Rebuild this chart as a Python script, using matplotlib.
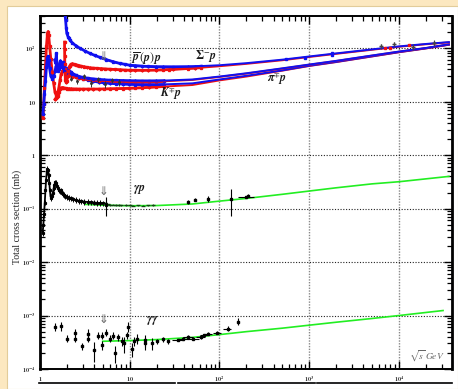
import numpy as np
import matplotlib
matplotlib.use("Agg")
import matplotlib.pyplot as plt
from matplotlib.patches import Rectangle
from matplotlib.lines import Line2D
from matplotlib.ticker import LogLocator, NullFormatter

plt.rcParams['mathtext.fontset'] = 'stix'

# ---------------- data (sqrt(s) in GeV, sigma in mb) ----------------
pbarp_sqrts = [1.88, 1.9, 1.93, 1.96, 1.99, 2.05, 2.1, 2.16, 2.3, 2.5, 2.8, 3.2, 3.6, 4.1, 4.7,
               5.5, 6.5, 7.7, 8.8, 10, 11.5, 13.8, 16, 19.5, 23.5, 30.6, 44.7, 52.8, 62.7]
pbarp_sigma = [600, 420, 330, 240, 190, 165, 152, 141, 125, 112, 99, 88, 80, 73, 67,
               61, 56, 52, 50, 48, 47, 46, 45.5, 45, 44.8, 44.5, 44.8, 45.2, 46]

pp_sqrts = [1.877, 1.88, 1.885, 1.89, 1.9, 1.92, 1.95, 1.99, 2.03, 2.07, 2.11, 2.15, 2.2, 2.25,
            2.3, 2.4, 2.5, 2.6, 2.75, 2.9, 3.1, 3.3, 3.6, 3.9, 4.3, 4.8, 5.3, 6.0, 6.8, 7.7,
            8.8, 10, 11.5, 13.8, 16, 19.5, 23.5, 27.4, 30.6, 44.7, 52.8, 62.7]
pp_sigma = [130, 95, 70, 50, 35, 25, 23, 24, 30, 38, 44, 47, 50, 50.5,
            51, 50, 49, 48, 47, 46, 45, 44, 43, 42.5, 42, 41.5, 41, 40.5, 40, 39.5,
            39, 38.7, 38.6, 38.5, 38.7, 38.9, 39.3, 39.8, 40.1, 41.7, 42.4, 43.2]

pip_sqrts = [1.08, 1.10, 1.12, 1.15, 1.18, 1.21, 1.23, 1.25, 1.28, 1.32, 1.37, 1.42, 1.47, 1.52,
             1.57, 1.62, 1.67, 1.72, 1.78, 1.84, 1.9, 1.97, 2.05, 2.15, 2.3, 2.5, 2.75, 3.0,
             3.4, 3.9, 4.5, 5.2, 6.1, 7.1, 8.4, 9.9, 11.5, 13.7, 16.2, 19.4, 23.9]
pip_sigma = [5, 9, 18, 45, 110, 185, 205, 175, 110, 62, 36, 22, 15, 13,
             14, 18, 25, 33, 37, 38, 41, 37, 33, 31, 29.5, 28.5, 27.5, 26.8,
             26, 25.3, 24.8, 24.4, 24.0, 23.7, 23.5, 23.4, 23.3, 23.3, 23.4, 23.6, 23.9]

pim_sqrts = [1.08, 1.10, 1.12, 1.15, 1.18, 1.21, 1.23, 1.25, 1.28, 1.32, 1.37, 1.42, 1.47, 1.51,
             1.55, 1.6, 1.65, 1.69, 1.73, 1.8, 1.87, 1.95, 2.03, 2.12, 2.2, 2.3, 2.5, 2.75,
             3.0, 3.4, 3.9, 4.5, 5.2, 6.1, 7.1, 8.4, 9.9, 11.5, 13.7, 16.2, 19.4, 23.9]
pim_sigma = [6, 9, 14, 24, 45, 66, 70, 60, 42, 30, 27, 30, 38, 46,
             40, 42, 52, 58, 50, 42, 37, 35, 37, 38, 35, 33, 31, 29.5,
             28.5, 27.5, 26.7, 26.1, 25.6, 25.2, 25.0, 24.8, 24.6, 24.5, 24.4, 24.4, 24.5, 24.6]

km_sqrts = [1.46, 1.49, 1.52, 1.55, 1.58, 1.62, 1.66, 1.7, 1.74, 1.78, 1.82, 1.87, 1.93, 2.0,
            2.1, 2.2, 2.35, 2.5, 2.7, 3.0, 3.4, 3.9, 4.5, 5.2, 6.1, 7.1, 8.4, 9.9, 11.5, 13.7,
            16.2, 19.4, 23.9]
km_sigma = [60, 52, 80, 45, 38, 40, 44, 48, 46, 50, 55, 47, 42, 40,
            38, 36, 33, 31, 29, 27, 25.5, 24.2, 23.2, 22.5, 22.0, 21.6, 21.3, 21.1, 20.9, 20.8,
            20.8, 20.8, 20.9]

kp_sqrts = [1.47, 1.5, 1.54, 1.58, 1.62, 1.66, 1.7, 1.75, 1.8, 1.86, 1.93, 2.0, 2.1, 2.2, 2.35,
            2.5, 2.7, 3.0, 3.4, 3.9, 4.5, 5.2, 6.1, 7.1, 8.4, 9.9, 11.5, 13.7, 16.2, 19.4, 23.9]
kp_sigma = [11, 11.5, 12, 13, 15, 17, 18, 18.3, 18.2, 18, 17.8, 17.6, 17.5, 17.4, 17.3,
            17.3, 17.2, 17.2, 17.2, 17.2, 17.2, 17.3, 17.4, 17.5, 17.6, 17.8, 18.0, 18.2, 18.5, 18.8, 19.2]

sigp_sqrts = [2.2, 2.6, 3.1, 3.7, 4.4, 5.3, 6.3, 7.5]
sigp_sigma = [27, 24, 30, 22, 26, 21, 25, 23]

pbarp_he_sqrts = [546, 900, 1800, 1800]
pbarp_he_sigma = [62, 66, 76, 80]
pp_he_sqrts = [7000, 8000, 13000]
pp_he_sigma = [99, 102, 113]
cr_sqrts = [6300, 8800, 14300, 24500]
cr_sigma = [108, 120, 106, 126]
cr_err = [12, 10, 15, 15]

fit_sqrts = [5, 7, 10, 20, 50, 100, 200, 500, 1000, 2000, 5000, 10000, 20000, 36000]
pbarp_fit = [64, 54, 48, 45, 45.5, 48, 52.5, 61, 70, 80, 95, 108, 120, 130]
pp_fit = [41, 40, 38.7, 38.9, 42, 46, 51, 59.5, 68.5, 78.5, 93.5, 106.5, 118.5, 128.5]
pim_fit = [25.6, 25.0, 24.6, 24.5, 26, 29.5, 34, 42, 49.5, 58, 73, 86.5, 101, 118]
pip_fit = [24.4, 23.8, 23.4, 23.7, 25.5, 29, 33.5, 41.5, 49, 57.5, 72.5, 86, 100.5, 117.5]
km_fit = [22.5, 21.6, 21.1, 20.8, 22, 26, 30.5, 38.5, 47, 55.5, 70.5, 84.5, 99.5, 116.5]
kp_fit = [17.3, 17.5, 17.8, 18.8, 20.5, 25, 29.5, 38, 46.5, 55, 70, 84, 99, 116]

# gamma p
gp_sqrts = [1.07, 1.09, 1.11, 1.13, 1.15, 1.17, 1.19, 1.21, 1.23, 1.25, 1.27, 1.29, 1.31, 1.33,
            1.36, 1.39, 1.42, 1.45, 1.48, 1.51, 1.54, 1.58, 1.62, 1.66, 1.7, 1.75, 1.8, 1.86,
            1.92, 2.0, 2.1, 2.2, 2.35, 2.5, 2.7, 2.9, 3.1, 3.4, 3.7, 4.0, 4.3, 4.7, 5.1, 5.5]
gp_sigma = [0.035, 0.05, 0.08, 0.13, 0.22, 0.35, 0.48, 0.55, 0.52, 0.42, 0.3, 0.22, 0.17, 0.16,
            0.17, 0.2, 0.24, 0.28, 0.31, 0.3, 0.27, 0.24, 0.22, 0.21, 0.22, 0.2, 0.19, 0.18,
            0.17, 0.165, 0.16, 0.155, 0.15, 0.145, 0.14, 0.137, 0.135, 0.133, 0.131, 0.13,
            0.128, 0.127, 0.125, 0.124]
gp2_sqrts = [5.3, 5.7, 6.0, 6.5, 7.0, 7.5, 8.0, 9.0, 10, 11, 12.5, 14, 16, 18.3]
gp2_sigma = [0.122, 0.12, 0.117, 0.118, 0.116, 0.117, 0.115, 0.116, 0.115, 0.114, 0.115,
             0.114, 0.115, 0.116]
gpw_sqrts = [5.4]
gpw_sigma = [0.118]
gpw_err = [0.045]
gph_sqrts = [45, 54, 75, 135, 200, 209]
gph_sigma = [0.135, 0.147, 0.152, 0.153, 0.168, 0.174]
gph_err = [0.012, 0.01, 0.02, 0.08, 0.004, 0.012]
gph_xerr = [0, 0, 0, 0, 40, 0]

gp_fit_sqrts = [3.2, 5, 10, 20, 50, 100, 200, 500, 1000, 2000, 5000, 10000, 36000]
gp_fit = [0.120, 0.116, 0.113, 0.114, 0.122, 0.138, 0.155, 0.185, 0.213, 0.245, 0.29, 0.318, 0.40]

# gamma gamma
gg_sqrts = [1.47, 1.72, 1.99, 2.46, 2.46, 2.95, 3.44, 3.44, 4.0, 4.45, 4.93, 4.93, 5.46, 6.06,
            6.53, 6.88, 7.44, 8.23, 8.67, 9.38, 9.62, 10.65, 11.2, 12.1, 14.9, 14.9, 17.8, 20.2,
            23.6, 26.9, 34.7, 39.5, 45, 51, 61.5, 68, 75, 95, 123, 159]
gg_sigma_e4 = [6.2, 6.3, 3.7, 4.8, 3.7, 2.65, 4.6, 3.7, 2.27, 4.2, 4.2, 2.8, 4.8, 3.7,
               4.2, 2.0, 4.0, 3.3, 3.0, 4.3, 6.2, 2.4, 3.3, 3.7, 3.5, 3.0, 3.0, 3.3,
               3.6, 3.3, 3.5, 3.7, 4.0, 3.7, 3.9, 4.3, 4.6, 4.8, 5.7, 7.7]
gg_err_rel = [0.18, 0.18, 0.15, 0.15, 0.15, 0.15, 0.2, 0.15, 0.4, 0.15, 0.15, 0.2, 0.15, 0.15,
              0.15, 0.35, 0.15, 0.2, 0.35, 0.15, 0.2, 0.3, 0.2, 0.2, 0.25, 0.25, 0.25, 0.12,
              0.1, 0.1, 0.06, 0.06, 0.06, 0.06, 0.06, 0.06, 0.06, 0.06, 0.1, 0.15]
gg_xerr_rel = [0] * 30 + [0.15, 0.15, 0.12, 0.15, 0.12, 0.1, 0.1, 0.1, 0.1, 0.0]

gg_fit_sqrts = [5, 10, 20, 50, 100, 200, 500, 1000, 2000, 5000, 10000, 31000]
gg_fit_e4 = [3.3, 3.4, 3.55, 3.9, 4.4, 5.0, 5.8, 6.6, 7.5, 8.8, 10.0, 12.4]

xticks = [1, 10, 100, 1e3, 1e4]
xticklabels = [r'$\mathbf{1}$', r'$\mathbf{10}$', r'$\mathbf{10^{2}}$', r'$\mathbf{10^{3}}$', r'$\mathbf{10^{4}}$']
yticks = [1e-4, 1e-3, 1e-2, 1e-1, 1, 10, 100]
yticklabels = [r'$\mathbf{10^{-4}}$', r'$\mathbf{10^{-3}}$', r'$\mathbf{10^{-2}}$', r'$\mathbf{10^{-1}}$',
               r'$\mathbf{1}$', r'$\mathbf{10}$', r'$\mathbf{10^{2}}$']

BLUE = '#1010f0'
RED = '#f01010'
GREEN = '#22ee22'

# ---------------- figure ----------------
W, H = 458, 389
fig = plt.figure(figsize=(W / 100, H / 100), dpi=100)
fig.patch.set_facecolor('#fce8c0')
fig.add_artist(Rectangle((6.5 / W, 0), 1 - 6.5 / W, 1 - 5.5 / H, transform=fig.transFigure,
                         facecolor='white', edgecolor='#e2cc9a', lw=0.8, zorder=-5))
ax = fig.add_axes([40 / W, 1 - 369 / H, 412 / W, 353 / H])
ax.set_xscale('log')
ax.set_yscale('log')
ax.set_xlim(1, 3.9e4)
ax.set_ylim(1e-4, 400)


def band(x, y, color, ms=1.4, lw=2.0, z=3):
    y = np.asarray(y, float)
    ax.plot(x, y, '-', color=color, lw=lw, zorder=z)
    ax.errorbar(x, y, yerr=0.06 * y, fmt='s', ms=ms, color=color, elinewidth=0.8,
                capsize=0, zorder=z)


# hadronic fits
for fy, c in [(kp_fit, RED), (km_fit, BLUE), (pip_fit, RED), (pim_fit, BLUE),
              (pp_fit, RED), (pbarp_fit, BLUE)]:
    ax.plot(fit_sqrts, fy, '-', color=c, lw=1.4, zorder=4)

band(kp_sqrts, kp_sigma, RED)
band(km_sqrts, km_sigma, BLUE)
band(pip_sqrts, pip_sigma, RED)
band(pim_sqrts, pim_sigma, BLUE)
band(pp_sqrts, pp_sigma, RED)
band(pbarp_sqrts, pbarp_sigma, BLUE)
ax.errorbar(sigp_sqrts, sigp_sigma, yerr=3.0, fmt='s', ms=1.0, color='#333333',
            elinewidth=0.7, capsize=0, zorder=5)
ax.errorbar(pbarp_he_sqrts, pbarp_he_sigma, yerr=3, fmt='s', ms=1.8, color=BLUE,
            elinewidth=0.8, capsize=0, zorder=5)
ax.errorbar(cr_sqrts, cr_sigma, yerr=cr_err, fmt='+', ms=3, color='#444444',
            elinewidth=0.8, capsize=0, zorder=5)
ax.errorbar(pp_he_sqrts, pp_he_sigma, yerr=4, fmt='s', ms=1.8, color=RED,
            elinewidth=0.8, capsize=0, zorder=6)

# gamma p
ax.plot(gp_fit_sqrts, gp_fit, '-', color=GREEN, lw=1.2, zorder=3)
gps = np.asarray(gp_sigma)
ax.plot(gp_sqrts, gps, '-', color='black', lw=1.3, zorder=4)
ax.errorbar(gp_sqrts, gps, yerr=0.12 * gps, fmt='s', ms=1.3, color='black',
            elinewidth=0.7, capsize=0, zorder=4)
gps2 = np.asarray(gp2_sigma)
ax.errorbar(gp2_sqrts, gps2, yerr=0.03 * gps2, fmt='_', ms=3, color='#114411',
            elinewidth=0.6, capsize=0, zorder=4)
ax.errorbar(gpw_sqrts, gpw_sigma, yerr=gpw_err, fmt='s', ms=1.3, color='black',
            elinewidth=0.8, capsize=0, zorder=4)
ax.errorbar(gph_sqrts, gph_sigma, yerr=gph_err, xerr=gph_xerr, fmt='s', ms=1.5,
            color='black', elinewidth=0.8, capsize=0, zorder=4)

# gamma gamma
ax.plot(gg_fit_sqrts, np.asarray(gg_fit_e4) * 1e-4, '-', color=GREEN, lw=1.2, zorder=3)
ggs = np.asarray(gg_sigma_e4) * 1e-4
ggx = np.asarray(gg_sqrts)
ax.errorbar(ggx, ggs, yerr=ggs * np.asarray(gg_err_rel), xerr=ggx * np.asarray(gg_xerr_rel),
            fmt='s', ms=1.5, color='black', elinewidth=0.8, capsize=0, zorder=4)

# annotations
tc = '#1a1a1a'
labels = [
    (15.3, 65, r'$\overline{\boldsymbol{p}}\,(\boldsymbol{p})\,\boldsymbol{p}$'),
    (70, 71, r'$\boldsymbol{\Sigma}^{-}\boldsymbol{p}$'),
    (29, 14.4, r'$\boldsymbol{K}^{\mp}\boldsymbol{p}$'),
    (433, 26.3, r'$\boldsymbol{\pi}^{\mp}\boldsymbol{p}$'),
    (12.9, 0.226, r'$\boldsymbol{\gamma}\boldsymbol{p}$'),
    (17.8, 8.1e-4, r'$\boldsymbol{\gamma}\boldsymbol{\gamma}$'),
]
for lx, ly, lt in labels:
    ax.text(lx, ly, lt, fontsize=8.5, color=tc, ha='center', va='center', zorder=7)
ax.text(20500, 1.71e-4, r'$\sqrt{s}\,GeV$', fontsize=6.8, color='#666666', ha='center',
        va='center', zorder=7)
for yy in [71, 0.205, 8.6e-4]:
    ax.text(5.1, yy, '\u21d3', fontsize=8.5, color='#666666', ha='center', va='center',
            family='DejaVu Sans', zorder=7)

# axes styling
ax.set_xticks(xticks)
ax.set_xticklabels(xticklabels)
ax.set_yticks(yticks)
ax.set_yticklabels(yticklabels)
ax.xaxis.set_minor_locator(LogLocator(base=10, subs=np.arange(2, 10), numticks=20))
ax.yaxis.set_minor_locator(LogLocator(base=10, subs=np.arange(2, 10), numticks=20))
ax.xaxis.set_minor_formatter(NullFormatter())
ax.yaxis.set_minor_formatter(NullFormatter())
ax.tick_params(which='both', direction='in', top=True, right=True, colors='black',
               labelcolor='#333333', labelsize=4.5)
ax.tick_params(which='major', length=6, width=1.0, pad=3)
ax.tick_params(which='minor', length=3.5, width=0.9)
ax.tick_params(axis='x', which='major', pad=4)
for s in ['left', 'right']:
    ax.spines[s].set_linewidth(2.0)
for s in ['top', 'bottom']:
    ax.spines[s].set_linewidth(1.4)

for xv in [10, 100, 1e3, 1e4]:
    ax.axvline(xv, color='#888888', lw=1.0, ls=(0, (1, 1)), zorder=1)
for yv in [1e-3, 1e-2, 1e-1, 1, 10, 100]:
    ax.axhline(yv, color='#222222', lw=0.8, ls=(0, (1, 1.5)), zorder=1)

fig.text(17 / W, 1 - 217 / H, 'Total cross section (mb)', rotation=90, fontsize=7,
         family='Liberation Serif', ha='center', va='center', color='#222222')

yl = 1 - 383 / H
for x0, x1 in [(39, 175), (178, 315), (317, 452)]:
    fig.add_artist(Line2D([x0 / W, x1 / W], [yl, yl], transform=fig.transFigure,
                          color='black', lw=1.2))

fig.savefig('out.png', dpi=100, facecolor=fig.get_facecolor())
